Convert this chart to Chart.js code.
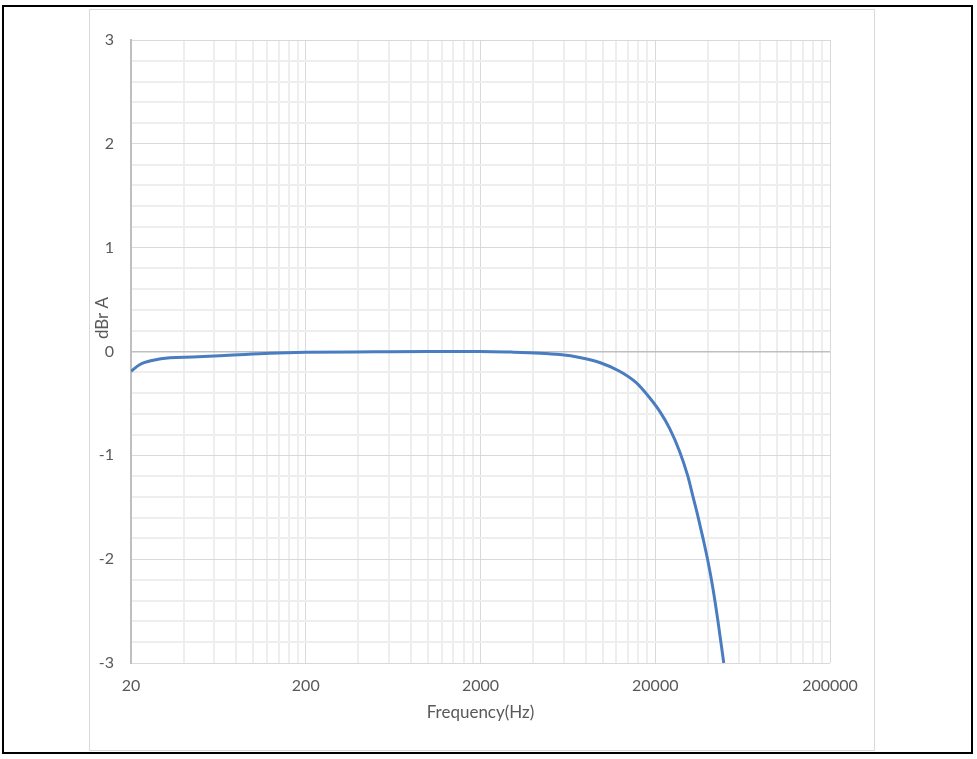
<!DOCTYPE html>
<html>
<head>
<meta charset="utf-8">
<script src="https://cdn.jsdelivr.net/npm/chart.js@4"></script>
<style>
  body { margin: 0; background: #fff; }
  #outer { position: absolute; left: 2px; top: 5px; width: 971px; height: 749px; box-sizing: border-box; border: 2px solid #000; }
  #frame { position: absolute; left: 89px; top: 9px; width: 786px; height: 742px; box-sizing: border-box; border: 1px solid #d9d9d9; background: #fff; }
</style>
</head>
<body>
<div id="outer"></div>
<div id="frame"><canvas id="responseChart"></canvas></div>
<script>
// frequency response
const freqHz = [20, 22.5, 26.8, 33.4, 45, 64.5, 90, 124.5, 200, 500, 1000, 2000, 3000, 4370, 5680, 7380,
  9610, 12500, 15560, 18570, 21180, 24160, 27540, 30720, 32800, 35020, 37420, 39940, 42660, 45540, 49320];
const dbrA = [-0.19, -0.125, -0.084, -0.06, -0.053, -0.042, -0.028, -0.017, -0.008, -0.003, 0, 0, -0.006,
  -0.016, -0.03, -0.058, -0.106, -0.19, -0.30, -0.445, -0.574, -0.74, -0.96, -1.2, -1.39, -1.58, -1.79,
  -2.01, -2.27, -2.58, -3.0];

const decadeStarts = [20, 200, 2000, 20000];
const xTickLabels = [20, 200, 2000, 20000, 200000];
const yTickLabels = [-3, -2, -1, 0, 1, 2, 3];

// minor grid lines: 1x..9x of every decade start, plus the last label
const xGridHz = [];
decadeStarts.forEach(d => { for (let m = 1; m <= 9; m++) xGridHz.push(d * m); });
xGridHz.push(200000);

const textColor = '#595959';
const fontFamily = 'Lato, "Open Sans", sans-serif';

const yTitlePlugin = {
  id: 'yTitle',
  afterDraw(chart) {
    const { ctx, chartArea } = chart;
    ctx.save();
    ctx.translate(chartArea.left - 28, chartArea.top + 278);
    ctx.rotate(-Math.PI / 2);
    ctx.textAlign = 'center';
    ctx.textBaseline = 'middle';
    ctx.font = '17px ' + fontFamily;
    ctx.fillStyle = textColor;
    ctx.fillText('dBr A', 0, 0);
    ctx.restore();
  }
};

const ctx = document.getElementById('responseChart').getContext('2d');
new Chart(ctx, {
  type: 'scatter',
  data: {
    datasets: [{
      label: 'dBr A',
      data: freqHz.map((f, i) => ({ x: f, y: dbrA[i] })),
      showLine: true,
      borderColor: '#4a7dc0',
      borderWidth: 3,
      pointRadius: 0,
      cubicInterpolationMode: 'monotone'
    }]
  },
  options: {
    responsive: true,
    maintainAspectRatio: false,
    animation: false,
    layout: { padding: { left: 0, top: 30, right: 44, bottom: 0 } },
    plugins: { legend: { display: false }, tooltip: { enabled: false } },
    scales: {
      x: {
        type: 'logarithmic',
        min: 20,
        max: 200000,
        afterBuildTicks: s => { s.ticks = xGridHz.map(v => ({ value: v })); },
        afterFit: s => { s.height = 87; },
        grid: {
          drawTicks: false,
          color: c => xTickLabels.includes(c.tick.value) ? '#d9d9d9' : '#eeeeee',
          lineWidth: c => xTickLabels.includes(c.tick.value) ? 1 : 2
        },
        border: { display: false },
        ticks: {
          autoSkip: false,
          maxRotation: 0,
          padding: 13,
          color: textColor,
          font: { family: fontFamily, size: 16 },
          callback: v => xTickLabels.includes(v) ? String(v) : ''
        },
        title: {
          display: true,
          text: 'Frequency(Hz)',
          color: textColor,
          font: { family: fontFamily, size: 17 },
          padding: { top: 0, bottom: 27 }
        }
      },
      y: {
        min: -3,
        max: 3,
        afterFit: s => { s.width = 41; },
        grid: {
          drawTicks: false,
          color: c => {
            const v = Math.round(c.tick.value * 10) / 10;
            if (v === 0) return '#bfbfbf';
            return yTickLabels.includes(v) ? '#d9d9d9' : '#eeeeee';
          },
          lineWidth: c => {
            const v = Math.round(c.tick.value * 10) / 10;
            if (v === 0) return 1.5;
            return yTickLabels.includes(v) ? 1 : 2;
          }
        },
        border: { display: true, color: '#bfbfbf', width: 2 },
        ticks: {
          stepSize: 0.2,
          autoSkip: false,
          padding: 17,
          color: textColor,
          font: { family: fontFamily, size: 16 },
          callback: v => {
            const r = Math.round(v * 10) / 10;
            return yTickLabels.includes(r) ? String(r) : '';
          }
        }
      }
    }
  },
  plugins: [yTitlePlugin]
});
</script>
</body>
</html>
